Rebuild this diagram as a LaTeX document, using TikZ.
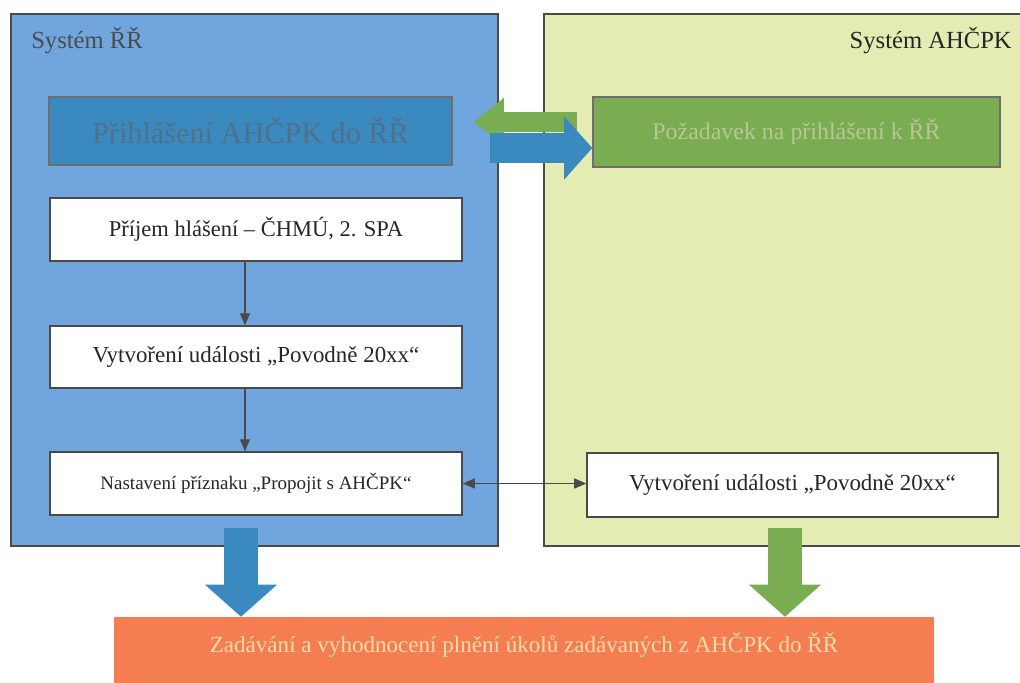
\documentclass[tikz,border=0pt]{standalone}
\usepackage{fontspec}
\setmainfont{Liberation Serif}
\usepackage{xcolor}
\usepackage{tikz}
\usetikzlibrary{arrows.meta}
\definecolor{rrblue}{RGB}{112,166,221}
\definecolor{ahgreen}{RGB}{228,236,180}
\definecolor{hdrblue}{RGB}{58,138,192}
\definecolor{hdrgreen}{RGB}{122,172,82}
\definecolor{taskorange}{RGB}{244,125,82}
\definecolor{edge}{RGB}{74,74,74}
\tikzstyle{panel} = [draw=edge, line width=1pt, inner sep=0pt, minimum height=13.3cm]
\tikzstyle{title} = [inner sep=0pt, font=\fontsize{17.5pt}{20pt}\selectfont]
\tikzstyle{header} = [draw=edge!80, line width=1pt, inner sep=0pt, text centered]
\tikzstyle{stepbox} = [draw=edge, fill=white, line width=1pt, inner sep=0pt, minimum width=10.3cm, text=black!85, font=\fontsize{16.3pt}{19pt}\selectfont]
\tikzstyle{flow} = [draw=edge, line width=1pt, -{Triangle[length=0.3cm,width=0.25cm]}]
\tikzstyle{link} = [draw=edge, line width=1pt, {Triangle[length=0.3cm,width=0.25cm]}-{Triangle[length=0.3cm,width=0.25cm]}]
\tikzstyle{greenleft} = [draw=hdrgreen, line width=0.475cm, -{Triangle[length=0.75cm,width=1.2cm,line width=0pt]}]
\tikzstyle{blueright} = [draw=hdrblue, line width=0.725cm, -{Triangle[length=0.7cm,width=1.575cm,line width=0pt]}]
\tikzstyle{bluedown} = [draw=hdrblue, line width=0.85cm, -{Triangle[length=0.8cm,width=1.8cm,line width=0pt]}]
\tikzstyle{greendown} = [draw=hdrgreen, line width=0.85cm, -{Triangle[length=0.8cm,width=1.8cm,line width=0pt]}]

\begin{document}
\begin{tikzpicture}[x=0.025cm, y=-0.025cm]
    \useasboundingbox (0,0) rectangle (1020,683);
    \node[panel, fill=rrblue, minimum width=12.175cm] (sysRR) at (254.5,280) {};
    \node[panel, fill=ahgreen, minimum width=12.025cm] (sysAH) at (784.5,280) {};
    \node[title, anchor=west, text=black!70] (titleRR) at (31,41) {Systém ŘŘ};
    \node[title, anchor=east, text=black!85] (titleAH) at (1012,41) {Systém AHČPK};
    \node[header, fill=hdrblue, minimum width=10.075cm, minimum height=1.7cm, text={rgb,255:red,80;green,112;blue,138}, font=\fontsize{21.5pt}{24pt}\selectfont] (loginRR) at (250.5,131) {Přihlášení AHČPK do ŘŘ};
    \node[header, fill=hdrgreen, minimum width=10.175cm, minimum height=1.75cm, text={rgb,255:red,185;green,198;blue,150}, font=\fontsize{17pt}{20pt}\selectfont] (requestAH) at (796.5,132) {Požadavek na přihlášení k ŘŘ};
    \coordinate (reqTail) at (577,122);
    \coordinate (ackTail) at (490,148);
    \draw[greenleft, shorten >=0.525cm] (reqTail) -- (reqTail -| loginRR.east);
    \draw[blueright] (ackTail) -- (ackTail -| requestAH.west);
    \node[stepbox, minimum height=1.575cm, font=\fontsize{16pt}{19pt}\selectfont] (prijem) at (256,229.5) {Příjem hlášení – ČHMÚ, 2. SPA};
    \node[stepbox, minimum height=1.55cm] (udalost) at (256,357) {Vytvoření události „Povodně 20xx“};
    \node[stepbox, minimum height=1.575cm, font=\fontsize{13.5pt}{16pt}\selectfont] (priznak) at (256,483.5) {Nastavení příznaku „Propojit s AHČPK“};
    \node[stepbox, minimum width=10.275cm, minimum height=1.6cm] (udalostAH) at (792.5,485) {Vytvoření události „Povodně 20xx“};
    \draw[flow] ([xshift=-0.275cm]prijem.south) -- ([xshift=-0.275cm]udalost.north);
    \draw[flow] ([xshift=-0.275cm]udalost.south) -- ([xshift=-0.275cm]priznak.north);
    \draw[link] (priznak.east) -- (priznak.east -| udalostAH.west);
    \node[fill=taskorange, inner sep=0pt, minimum width=20.5cm, minimum height=1.825cm, text depth=0.54cm, text={rgb,255:red,250;green,220;blue,170}, font=\fontsize{16.4pt}{19pt}\selectfont] (ukoly) at (524,653.5) {Zadávání a vyhodnocení plnění úkolů zadávaných z AHČPK do ŘŘ};
    \coordinate (outRR) at (241,528);
    \coordinate (outAH) at (785,528);
    \draw[bluedown] (outRR) -- (outRR |- ukoly.north);
    \draw[greendown] (outAH) -- (outAH |- ukoly.north);
\end{tikzpicture}
\end{document}
